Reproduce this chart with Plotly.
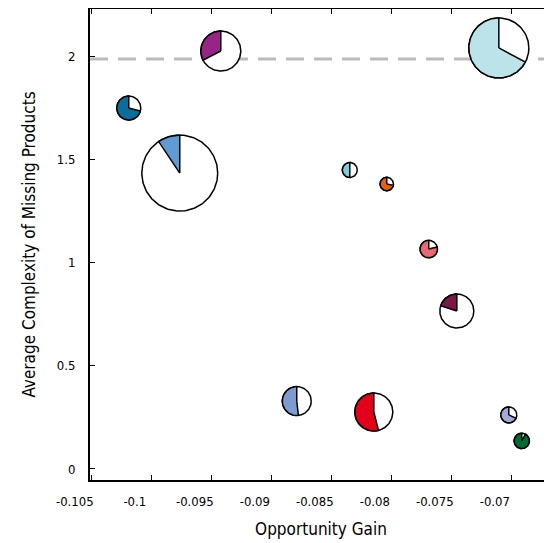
import numpy as np
import plotly.graph_objects as go

# ---- data ----
names = ["A", "B", "C", "D", "E", "F", "G", "H", "I", "J", "K", "L"]
opportunity_gain = [-0.09425, -0.10192, -0.09767, -0.07108, -0.0835, -0.08042,
                    -0.07692, -0.07458, -0.08792, -0.0815, -0.07025, -0.06917]
avg_complexity = [2.024, 1.748, 1.433, 2.039, 1.448, 1.380,
                  1.065, 0.765, 0.329, 0.276, 0.262, 0.136]
share = [0.325, 0.71, 0.094, 0.672, 0.50, 0.72,
         0.79, 0.20, 0.518, 0.54, 0.68, 0.92]
volume = [4.0, 1.44, 14.4, 9.0, 0.56, 0.45,
          0.76, 2.89, 2.1, 3.61, 0.64, 0.59]
colors = ["#982585", "#0B6D9B", "#5E9CD3", "#BDE3EA", "#7ECCD8", "#E8600A",
          "#EC6776", "#7A1848", "#7D9BD0", "#E2001A", "#A6A9D8", "#006B35"]
x_ticks = [-0.105, -0.1, -0.095, -0.09, -0.085, -0.08, -0.075, -0.07]
x_tick_text = ["-0.105", "-0.1", "-0.095", "-0.09", "-0.085", "-0.08", "-0.075", "-0.07"]
y_ticks = [0, 0.5, 1, 1.5, 2]
y_tick_text = ["0", "0.5", "1", "1.5", "2"]
threshold = 1.985

# ---- layout geometry (page body has an 8px default margin) ----
W, H = 544, 535
ml, mr, mt, mb = 82, 0, 1, 63
x_range = [-0.10515, -0.06665]
y_range = [-0.0533, 2.2276]
sx = (W - ml - mr) / (x_range[1] - x_range[0])   # px per x unit
sy = (H - mt - mb) / (y_range[1] - y_range[0])   # px per y unit

font_family = "DejaVu Sans Condensed, Liberation Sans Narrow, sans-serif"

fig = go.Figure()

for i in range(len(names)):
    cx, cy = opportunity_gain[i], avg_complexity[i]
    r = 10.0 * np.sqrt(volume[i])
    t = np.linspace(0, 2 * np.pi, 181)
    circ_x = cx + r * np.cos(t) / sx
    circ_y = cy + r * np.sin(t) / sy
    fig.add_trace(go.Scatter(x=circ_x, y=circ_y, mode="lines", fill="toself",
                             fillcolor="white", line=dict(color="black", width=1.5),
                             hoverinfo="skip", showlegend=False))
    th = np.linspace(0, 2 * np.pi * share[i], max(int(180 * share[i]), 4))
    wx = np.concatenate([[cx], cx - r * np.sin(th) / sx, [cx]])
    wy = np.concatenate([[cy], cy + r * np.cos(th) / sy, [cy]])
    fig.add_trace(go.Scatter(x=wx, y=wy, mode="lines", fill="toself",
                             fillcolor=colors[i], line=dict(color="black", width=1.5),
                             hoverinfo="skip", showlegend=False, name=names[i]))

fig.add_shape(type="line", xref="paper", x0=0, x1=1, yref="y", y0=threshold, y1=threshold,
              line=dict(color="#BBBBBB", width=3, dash="18px,10px"), layer="below")

fig.update_layout(
    width=W, height=H,
    margin=dict(l=ml, r=mr, t=mt, b=mb, autoexpand=False),
    plot_bgcolor="white", paper_bgcolor="white",
    font=dict(family=font_family, color="black", size=13),
    showlegend=False,
    xaxis=dict(range=x_range, tickvals=x_ticks, ticktext=x_tick_text,
               showgrid=False, zeroline=False, automargin=False,
               showline=True, linecolor="black", linewidth=2, mirror="ticks",
               ticks="inside", ticklen=5, tickwidth=1, tickcolor="black",
               ticklabelshift=-17, ticklabelstandoff=8,
               tickfont=dict(size=13),
               title=dict(text="Opportunity Gain", font=dict(size=17), standoff=16)),
    yaxis=dict(range=y_range, tickvals=y_ticks, ticktext=y_tick_text,
               showgrid=False, zeroline=False, automargin=False,
               showline=True, linecolor="black", linewidth=2, mirror=False,
               ticks="inside", ticklen=5, tickwidth=1, tickcolor="black",
               ticklabelstandoff=10,
               tickfont=dict(size=13),
               title=dict(text="Average Complexity of Missing Products", font=dict(size=17), standoff=17)),
)

fig.write_html("out.html")
